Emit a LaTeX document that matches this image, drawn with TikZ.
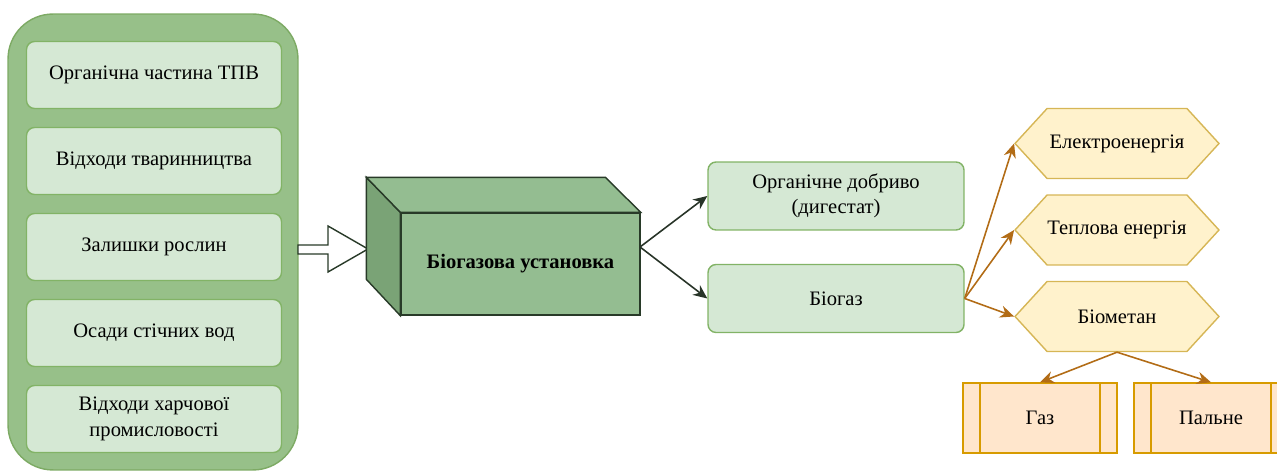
\documentclass[tikz,border=0pt]{standalone}
\usepackage{fontspec}
\setmainfont{Liberation Serif}
\usepackage{tikz}
\usetikzlibrary{arrows.meta,shapes.symbols}

\definecolor{outerfill}{RGB}{151,192,137}
\definecolor{outerline}{RGB}{125,170,100}
\definecolor{greenfill}{RGB}{213,232,212}
\definecolor{greenline}{RGB}{130,179,102}
\definecolor{cubefront}{RGB}{148,189,145}
\definecolor{cubeside}{RGB}{122,163,118}
\definecolor{cubeline}{RGB}{40,58,40}
\definecolor{hexfill}{RGB}{255,242,204}
\definecolor{hexline}{RGB}{214,182,86}
\definecolor{procfill}{RGB}{255,230,204}
\definecolor{procline}{RGB}{215,155,0}
\definecolor{darkarrow}{RGB}{40,52,40}
\definecolor{brownarrow}{RGB}{178,108,22}

\begin{document}
\begin{tikzpicture}[x=0.02cm, y=-0.02cm,
        font=\rmfamily\fontsize{11.7}{14.5}\selectfont,
        source/.style={rectangle, draw=greenline, line width=0.8pt, fill=greenfill, rounded corners=0.16cm, minimum width=5.1cm, minimum height=1.34cm, align=center},
        product/.style={rectangle, draw=greenline, line width=0.8pt, fill=greenfill, rounded corners=0.16cm, minimum width=5.12cm, minimum height=1.36cm, align=center},
        energy/.style={shape=signal, signal to=west and east, signal pointer angle=95, draw=hexline, line width=0.8pt, fill=hexfill, minimum width=4.08cm, minimum height=1.4cm, inner sep=0pt},
        process/.style={rectangle, draw=procline, line width=0.8pt, fill=procfill, minimum width=3.08cm, minimum height=1.4cm,
            path picture={\draw[procline, line width=0.8pt] ([xshift=0.34cm]path picture bounding box.north west) -- ([xshift=0.34cm]path picture bounding box.south west)
                ([xshift=-0.34cm]path picture bounding box.north east) -- ([xshift=-0.34cm]path picture bounding box.south east);}},
        flow/.style={-{Stealth[length=8pt, width=7pt]}, line width=0.9pt, darkarrow},
        energyflow/.style={-{Stealth[length=8pt, width=7pt]}, line width=0.9pt, brownarrow}
    ]
        \clip (0,0) rectangle (1277,475);

        % waste sources
        \node[rectangle, draw=outerline, line width=0.8pt, fill=outerfill, rounded corners=0.9cm, minimum width=5.8cm, minimum height=9.12cm] (wastes) at (153,242) {};
        \node[source] (msw) at (154,75) {Органічна частина ТПВ};
        \node[source] (manure) at (154,161) {Відходи тваринництва};
        \node[source] (plants) at (154,247) {Залишки рослин};
        \node[source] (sludge) at (154,333) {Осади стічних вод};
        \node[source] (food) at (154,419) {Відходи харчової\\промисловості};

        % feed arrow
        \draw[cubeline, line width=0.8pt, fill=white] (298,245) -- (328,245) -- (328,226) -- (368,249) -- (328,272) -- (328,254) -- (298,254) -- cycle;

        % biogas plant
        \node[rectangle, draw=cubeline, line width=0.8pt, fill=cubefront, minimum width=4.78cm, minimum height=2.04cm] (plant) at (520.5,264) {\textbf{Біогазова установка}};
        \draw[cubeline, line width=0.8pt, fill=cubeside] (plant.north west) -- ++(-34,-35) -- ++(0,102) -- (plant.south west) -- cycle;
        \draw[cubeline, line width=0.8pt, fill=cubefront] (plant.north west) -- ++(-34,-35) -- ++(239,0) -- (plant.north east) -- cycle;
        \coordinate (plantout) at (640,247);

        % products
        \node[product] (digestate) at (836,196) {Органічне добриво\\(дигестат)};
        \node[product] (biogas) at (836,298.5) {Біогаз};

        \node[energy] (power) at (1117,143.5) {Електроенергія};
        \node[energy] (heat) at (1117,230) {Теплова енергія};
        \node[energy] (biomethane) at (1117,316.5) {Біометан};

        \node[process] (gas) at (1040,418) {Газ};
        \node[process] (fuel) at (1211,418) {Пальне};

        \draw[flow] (plantout) -- (digestate.west);
        \draw[flow] (plantout) -- (biogas.west);
        \draw[energyflow] (biogas.east) -- (power.west);
        \draw[energyflow] (biogas.east) -- (heat.west);
        \draw[energyflow] (biogas.east) -- (biomethane.west);
        \draw[energyflow] (biomethane.south) -- (gas.north);
        \draw[energyflow] (biomethane.south) -- (fuel.north);
    \end{tikzpicture}
\end{document}
